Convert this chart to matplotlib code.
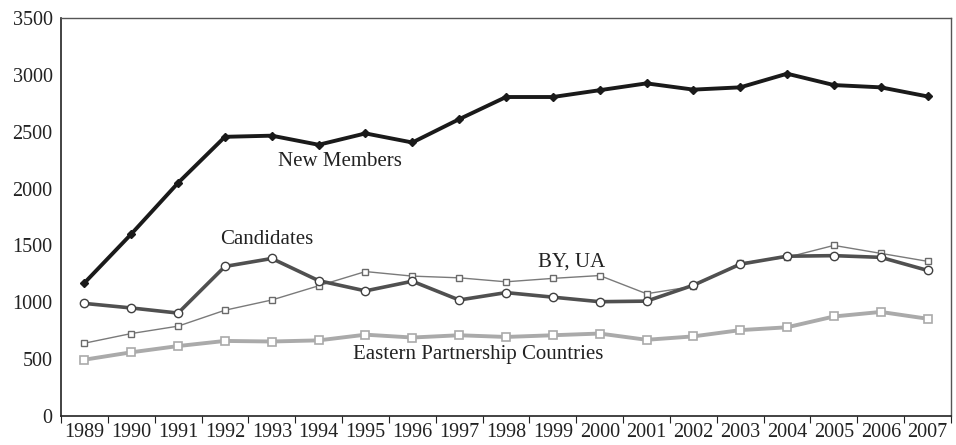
import numpy as np
import matplotlib.pyplot as plt

years = [str(y) for y in range(1989, 2008)]
new_members = [1170, 1600, 2050, 2455, 2465, 2385, 2485, 2405, 2610, 2805,
               2805, 2865, 2925, 2870, 2890, 3010, 2910, 2890, 2810]
candidates = [990, 950, 905, 1315, 1385, 1190, 1100, 1185, 1020, 1085,
              1045, 1005, 1010, 1150, 1335, 1405, 1410, 1395, 1280]
by_ua = [640, 725, 790, 930, 1020, 1145, 1270, 1230, 1215, 1180,
         1210, 1235, 1075, 1140, 1345, 1395, 1500, 1430, 1360]
eastern = [495, 560, 615, 660, 655, 665, 715, 690, 710, 695,
           710, 725, 670, 700, 755, 780, 875, 915, 855]

plt.rcParams['font.family'] = ['Liberation Serif', 'DejaVu Serif']

fig = plt.figure(figsize=(9.56, 4.45), dpi=100)
ax = fig.add_axes([0.0638, 0.0652, 0.931, 0.8944])
x = np.arange(len(years))

ax.plot(x, eastern, 's-', color='#aaaaaa', lw=2.8, ms=5.5,
        mfc='white', mec='#aaaaaa', mew=1.2)
ax.plot(x, by_ua, 's-', color='#7a7a7a', lw=1.0, ms=5,
        mfc='white', mec='#6a6a6a', mew=1.0)
ax.plot(x, candidates, 'o-', color='#505050', lw=2.6, ms=6,
        mfc='white', mec='#404040', mew=1.0)
ax.plot(x, new_members, 'D-', color='#1a1a1a', lw=2.8, ms=4,
        mfc='#1a1a1a', mec='#1a1a1a')

fs = 15
ax.text(4.13, 2234, 'New Members', fontsize=fs, va='center', ha='left', color='#222222')
ax.text(2.89, 1548, 'Candidates', fontsize=fs, va='center', ha='left', color='#222222')
ax.text(9.68, 1354, 'BY, UA', fontsize=fs, va='center', ha='left', color='#222222')
ax.text(5.73, 545, 'Eastern Partnership Countries', fontsize=fs, va='center',
        ha='left', color='#222222')

ax.set_xlim(-0.5, len(years) - 0.5)
ax.set_ylim(0, 3500)
ax.set_yticks(range(0, 3501, 500))
ax.tick_params(axis='y', length=0, labelsize=14.5, pad=6, colors='#222222')

ax.set_xticks(np.arange(-0.5, len(years), 1))
ax.set_xticklabels([])
ax.tick_params(axis='x', which='major', length=5, direction='out', color='#222222')
ax.set_xticks(x, minor=True)
ax.set_xticklabels(years, minor=True)
ax.tick_params(axis='x', which='minor', length=0, labelsize=14.5, pad=5, colors='#222222')

for s in ['left', 'bottom']:
    ax.spines[s].set_color('#222222')
    ax.spines[s].set_linewidth(1.2)
for s in ['top', 'right']:
    ax.spines[s].set_color('#555555')
    ax.spines[s].set_linewidth(1.0)

fig.savefig('out.png', dpi=100)
